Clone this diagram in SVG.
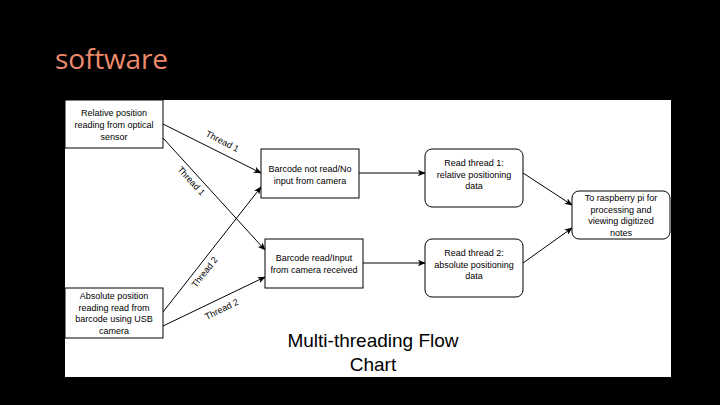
<svg xmlns="http://www.w3.org/2000/svg" width="720" height="405" viewBox="0 0 720 405">
<defs>
<style>
.box{fill:#fff;stroke:#000;stroke-width:1}
.t{font-family:"Liberation Sans",Arial,sans-serif;font-size:9px;fill:#000;text-anchor:middle}
.e{stroke:#000;stroke-width:1;fill:none;marker-end:url(#ah)}
</style>
<marker id="ah" viewBox="0 0 10 8" refX="9" refY="4" markerWidth="8" markerHeight="6.4" markerUnits="userSpaceOnUse" orient="auto">
<path d="M0,0 L10,4 L0,8 L2.5,4 z" fill="#000"/>
</marker>
</defs>
<rect width="720" height="405" fill="#000"/>
<text x="55" y="69" font-family="'Open Sans','Liberation Sans',sans-serif" font-size="28" fill="#EE8A6C" textLength="113">software</text>
<rect x="65" y="100" width="606" height="277" fill="#fff"/>

<g id="connectors">
<path class="e" d="M163,124 L261,173"/>
<path class="e" d="M163,138 L265,250"/>
<path class="e" d="M163,312 L261,187"/>
<path class="e" d="M163,326 L265,277"/>
<path class="e" d="M359,173 L425,173"/>
<path class="e" d="M363,263 L425,263"/>
<path class="e" d="M523,173 L572,205"/>
<path class="e" d="M523,263 L572,228"/>
<text class="t" transform="translate(221,144) rotate(27)">Thread 1</text>
<text class="t" transform="translate(189,183) rotate(47.7)">Thread 1</text>
<text class="t" transform="translate(207,274) rotate(-52)">Thread 2</text>
<text class="t" transform="translate(223,312) rotate(-26)">Thread 2</text>
</g>

<g id="n-relative">
<rect class="box" x="65" y="100" width="98" height="48"/>
<text class="t"><tspan x="114" y="116">Relative position</tspan><tspan x="114" y="128">reading from optical</tspan><tspan x="114" y="140">sensor</tspan></text>
</g>
<g id="n-absolute">
<rect class="box" x="65" y="288" width="98" height="50"/>
<text class="t"><tspan x="114" y="299">Absolute position</tspan><tspan x="114" y="310.5">reading read from</tspan><tspan x="114" y="322">barcode using USB</tspan><tspan x="114" y="333.5">camera</tspan></text>
</g>
<g id="n-notread">
<rect class="box" x="261" y="149" width="98" height="49"/>
<text class="t"><tspan x="310" y="172">Barcode not read/No</tspan><tspan x="310" y="184">input from camera</tspan></text>
</g>
<g id="n-read">
<rect class="box" x="265" y="239" width="98" height="49"/>
<text class="t"><tspan x="314" y="261">Barcode read/Input</tspan><tspan x="314" y="272.5">from camera received</tspan></text>
</g>
<g id="n-thread1">
<rect class="box" x="425" y="149" width="98" height="58" rx="7"/>
<text class="t"><tspan x="474" y="166">Read thread 1:</tspan><tspan x="474" y="177.5">relative positioning</tspan><tspan x="474" y="189">data</tspan></text>
</g>
<g id="n-thread2">
<rect class="box" x="425" y="239" width="98" height="58" rx="7"/>
<text class="t"><tspan x="474" y="256">Read thread 2:</tspan><tspan x="474" y="267.5">absolute positioning</tspan><tspan x="474" y="279">data</tspan></text>
</g>
<g id="n-pi">
<rect class="box" x="572" y="191" width="98" height="48" rx="7"/>
<text class="t"><tspan x="621" y="201">To raspberry pi for</tspan><tspan x="621" y="212.5">processing and</tspan><tspan x="621" y="224">viewing digitized</tspan><tspan x="621" y="235.5">notes</tspan></text>
</g>
<g id="caption">
<text font-family="'Liberation Sans',Arial,sans-serif" font-size="19" text-anchor="middle" fill="#000"><tspan x="373" y="347">Multi-threading Flow</tspan><tspan x="373" y="371">Chart</tspan></text>
</g>
</svg>
